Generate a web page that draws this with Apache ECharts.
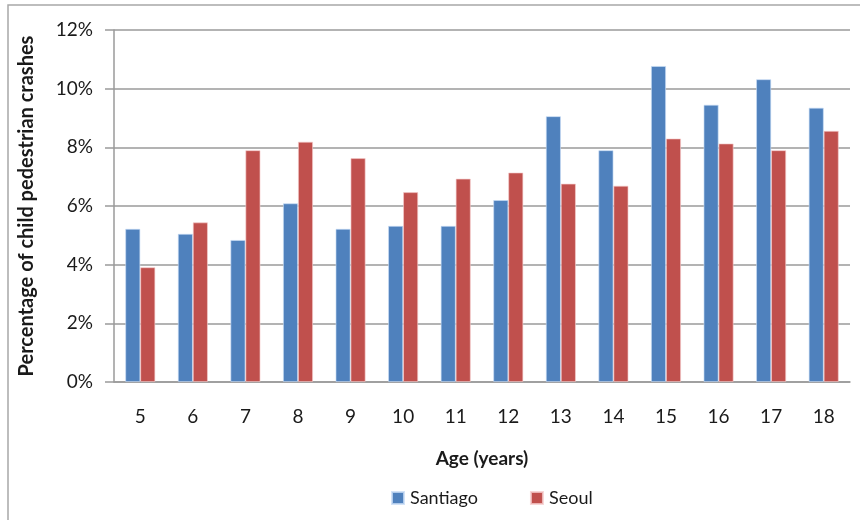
<!DOCTYPE html>
<html>
<head>
<meta charset="utf-8">
<script src="https://cdn.jsdelivr.net/npm/echarts@6/dist/echarts.min.js"></script>
<style>
  html, body { margin: 0; padding: 0; background: #fff; }
  #chart { width: 860px; height: 520px; }
</style>
</head>
<body>
<div id="chart"></div>
<script>
// Age groups on the category axis
const ages = ['5', '6', '7', '8', '9', '10', '11', '12', '13', '14', '15', '16', '17', '18'];
// Share of child pedestrian crashes by age (%)
const santiago = [5.22, 5.05, 4.84, 6.09, 5.22, 5.32, 5.32, 6.20, 9.06, 7.90, 10.77, 9.45, 10.32, 9.35];
const seoul    = [3.91, 5.44, 7.90, 8.19, 7.63, 6.47, 6.93, 7.14, 6.76, 6.69, 8.30, 8.13, 7.90, 8.56];
// Axis labels
const yTicks = [0, 2, 4, 6, 8, 10, 12];

const FONT = 'Lato, "Open Sans", sans-serif';
const TEXT = '#1a1a1a';
const GRID = '#9a9a9a';

const chart = echarts.init(document.getElementById('chart'), null, { renderer: 'canvas' });

chart.setOption({
  animation: false,
  backgroundColor: '#fff',
  textStyle: { fontFamily: FONT, color: TEXT },
  graphic: [{
    type: 'rect',
    shape: { x: 8, y: 5, width: 900, height: 600 },
    style: { fill: 'none', stroke: '#a8a8a8', lineWidth: 1.5 },
    silent: true,
    z: -1
  }],
  grid: { left: 114, right: 10, top: 30, bottom: 138, containLabel: false },
  legend: {
    left: 386,
    top: 484,
    itemWidth: 12,
    itemHeight: 12,
    itemGap: 52,
    icon: 'rect',
    textStyle: { fontFamily: FONT, fontSize: 18, color: TEXT, padding: [0, 0, 0, 1] },
    data: ['Santiago', 'Seoul']
  },
  xAxis: {
    type: 'category',
    data: ages,
    name: 'Age (years)',
    nameLocation: 'middle',
    nameGap: 67,
    nameTextStyle: { fontFamily: FONT, fontSize: 19, fontWeight: 'bold', color: TEXT },
    axisLine: { lineStyle: { color: GRID, width: 1.5 } },
    axisTick: { show: false },
    axisLabel: { fontFamily: FONT, fontSize: 19, color: TEXT, margin: 25 }
  },
  yAxis: {
    type: 'value',
    min: yTicks[0],
    max: yTicks[yTicks.length - 1],
    interval: 2,
    name: 'Percentage of child pedestrian crashes',
    nameLocation: 'middle',
    nameGap: 77,
    nameTextStyle: { fontFamily: FONT, fontSize: 20, fontWeight: 'bold', color: TEXT },
    axisLine: { show: true, lineStyle: { color: GRID, width: 1.5 } },
    axisTick: { show: true, length: 9, lineStyle: { color: GRID, width: 1.5 } },
    axisLabel: { fontFamily: FONT, fontSize: 19, color: TEXT, margin: 21, formatter: '{value}%' },
    splitLine: { lineStyle: { color: GRID, width: 1.5 } }
  },
  series: [
    {
      name: 'Santiago',
      type: 'bar',
      data: santiago,
      barGap: '0%',
      barCategoryGap: '43%',
      itemStyle: { color: '#4F81BD', borderColor: 'rgba(200,220,245,0.8)', borderWidth: 0.8 }
    },
    {
      name: 'Seoul',
      type: 'bar',
      data: seoul,
      barGap: '0%',
      barCategoryGap: '43%',
      itemStyle: { color: '#C0504D', borderColor: 'rgba(245,205,205,0.8)', borderWidth: 0.8 }
    }
  ]
});
</script>
</body>
</html>
